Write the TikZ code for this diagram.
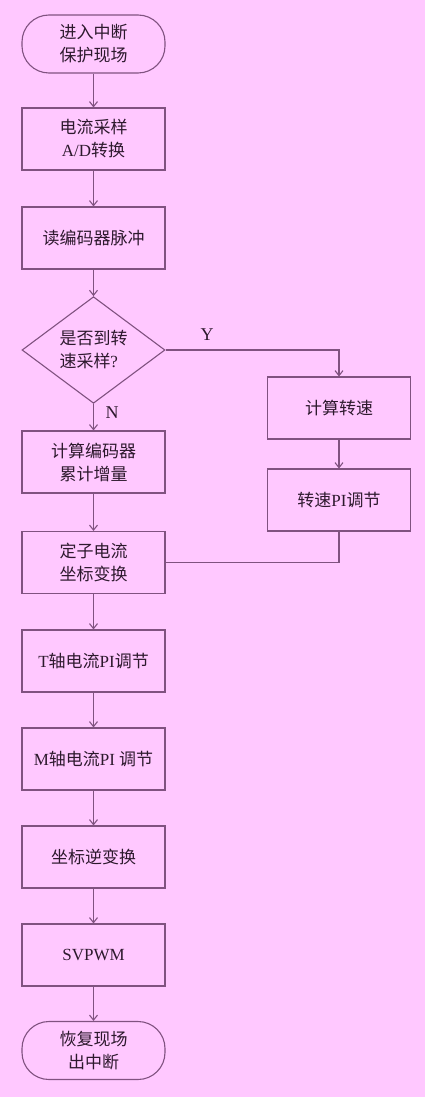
\documentclass[tikz,border=0pt]{standalone}
\usepackage{fontspec}
\setmainfont{Liberation Serif}
\newfontfamily\cjk{Noto Sans CJK SC}
\usetikzlibrary{shapes.geometric,arrows.meta}
\definecolor{bg}{RGB}{255,200,255}
\definecolor{ln}{RGB}{128,82,128}
\definecolor{tx}{RGB}{45,25,45}
\tikzset{
  base/.style={draw=ln, line width=1.1pt, text=tx, align=center, inner sep=0pt,
    font=\fontsize{17}{23}\selectfont},
  stepbox/.style={base, rectangle, minimum width=143pt, minimum height=62pt},
  term/.style={base, rectangle, rounded corners=27pt, minimum width=143pt, minimum height=58pt},
  decide/.style={base, diamond, minimum width=143pt, minimum height=85pt, align=left},
  arr/.style={draw=ln, line width=1.1pt, -{Straight Barb[length=5pt,width=8pt]}},
  conn/.style={draw=ln, line width=1.1pt},
  lbl/.style={text=tx, font=\fontsize{18}{20}\selectfont, inner sep=0pt}
}
\begin{document}
\begin{tikzpicture}[x=1pt, y=-1pt]
  \fill[bg] (0,0) rectangle (425,1097);
  \useasboundingbox (0,0) rectangle (425,1097);
  \node[term] (start) at (93.5,44) {\cjk 进入中断\\\cjk 保护现场};
  \node[stepbox] (adc) at (93.5,139) {\cjk 电流采样\\A/D{\cjk 转换}};
  \node[stepbox] (enc) at (93.5,238) {\cjk 读编码器脉冲};
  \node[decide] (dec) at (93.5,350) {\cjk 是否到转\\{\cjk 速采样}?};
  \node[stepbox] (cs) at (339,408) {\cjk 计算转速};
  \node[stepbox] (spi) at (339,500) {{\cjk 转速}PI{\cjk 调节}};
  \node[stepbox] (inc) at (93.5,462) {\cjk 计算编码器\\\cjk 累计增量};
  \node[stepbox] (stator) at (93.5,562.5) {\cjk 定子电流\\\cjk 坐标变换};
  \node[stepbox] (tpi) at (93.5,661) {T{\cjk 轴电流}PI{\cjk 调节}};
  \node[stepbox] (mpi) at (93.5,759) {M{\cjk 轴电流}PI {\cjk 调节}};
  \node[stepbox] (inv) at (93.5,857) {\cjk 坐标逆变换};
  \node[stepbox] (svp) at (93.5,955) {SVPWM};
  \node[term] (stop) at (93.5,1050.5) {\cjk 恢复现场\\\cjk 出中断};
  \node[lbl] (ylab) at (207,335) {Y};
  \node[lbl] (nlab) at (112,413) {N};

  \draw[arr] (start) -- (adc);
  \draw[arr] (adc) -- (enc);
  \draw[arr] (enc) -- (dec);
  \draw[arr] (dec.east) -| (cs.north);
  \draw[arr] (cs) -- (spi);
  \draw[conn] (spi.south) |- (stator.east);
  \draw[arr] (dec) -- (inc);
  \draw[arr] (inc) -- (stator);
  \draw[arr] (stator) -- (tpi);
  \draw[arr] (tpi) -- (mpi);
  \draw[arr] (mpi) -- (inv);
  \draw[arr] (inv) -- (svp);
  \draw[arr] (svp) -- (stop);
\end{tikzpicture}
\end{document}
